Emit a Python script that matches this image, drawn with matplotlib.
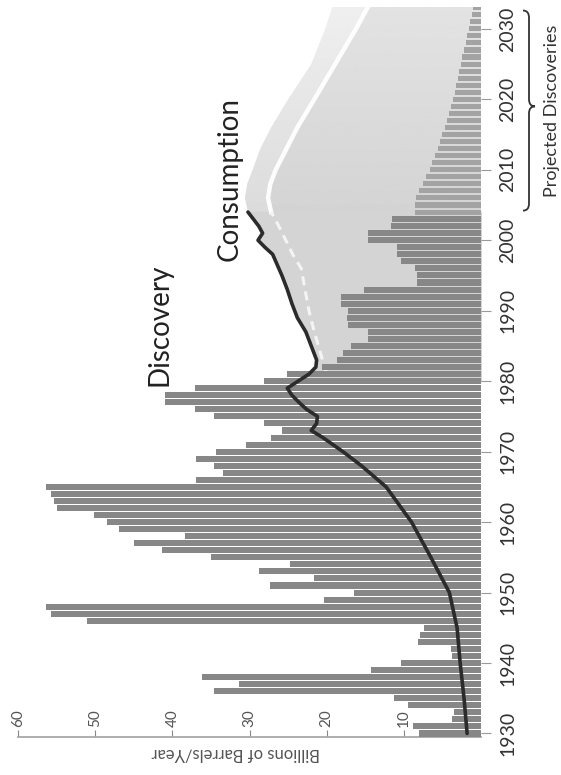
import numpy as np
import matplotlib
matplotlib.use("Agg")
import matplotlib.pyplot as plt
from matplotlib.path import Path
from matplotlib.patches import PathPatch
from matplotlib.transforms import blended_transform_factory

plt.rcParams['font.family'] = ['Lato', 'DejaVu Sans']

# discoveries, billions of barrels per year
hist_years = list(range(1930, 2004))
hist_disc = [8.0, 8.8, 3.7, 3.5, 9.5, 11.3, 34.6, 31.3, 36.2, 14.2,
             10.4, 3.7, 3.9, 8.1, 7.9, 7.4, 51.1, 55.7, 56.4, 20.4,
             16.5, 27.4, 21.6, 28.8, 24.8, 35.0, 41.3, 45.0, 38.3, 46.9,
             48.5, 50.2, 55.0, 55.3, 55.7, 56.4, 36.9, 33.4, 34.6, 36.9,
             34.4, 30.4, 27.2, 25.8, 28.1, 34.6, 37.1, 40.9, 40.9, 37.1,
             28.1, 25.1, 20.6, 18.6, 17.9, 16.9, 14.6, 14.6, 17.2, 17.4,
             17.2, 18.1, 18.1, 15.1, 8.3, 8.3, 8.5, 10.4, 10.9, 10.9,
             14.6, 14.6, 11.7, 11.5]

proj_years = list(range(2004, 2034))
proj_disc = [8.6, 8.6, 8.4, 8.0, 7.5, 7.1, 6.6, 6.3, 6.0, 5.6,
             5.3, 5.0, 4.7, 4.4, 4.2, 3.9, 3.6, 3.4, 3.2, 3.0,
             2.8, 2.6, 2.4, 2.2, 2.0, 1.8, 1.6, 1.4, 1.2, 1.0]

# consumption
cons_years = [1930, 1935, 1940, 1945, 1950, 1955, 1960, 1965, 1968, 1970,
              1972, 1973, 1974, 1975, 1976, 1977, 1978, 1979, 1980, 1981,
              1982, 1983, 1985, 1987, 1989, 1991, 1993, 1995, 1997, 1998,
              1999, 2000, 2001, 2002, 2003, 2004]
cons_vals = [1.8, 2.2, 2.7, 3.1, 4.1, 6.5, 9.0, 12.3, 15.5, 17.9,
             20.5, 22.0, 21.3, 21.2, 22.6, 23.6, 24.5, 25.1, 23.7, 22.3,
             21.4, 21.3, 22.0, 22.7, 23.8, 24.5, 25.1, 25.8, 26.6, 27.0,
             28.0, 28.9, 28.3, 28.8, 29.5, 30.2]

# dashed inner line inside the gap
prod_years = [1981, 1984, 1987, 1990, 1993, 1996, 1998, 2000, 2002, 2004]
prod_vals = [20.0, 20.8, 21.6, 22.3, 22.8, 23.3, 24.4, 25.3, 26.2, 27.2]

# projected band
fut_years = [2004, 2006, 2008, 2010, 2013, 2016, 2020, 2025, 2030, 2034]
fut_outer = [30.2, 30.6, 30.3, 29.6, 28.6, 27.2, 25.0, 22.0, 20.2, 19.0]
fut_inner = [27.2, 27.6, 27.3, 26.6, 25.2, 23.8, 21.6, 18.9, 16.2, 14.2]

year_ticks = [1930, 1940, 1950, 1960, 1970, 1980, 1990, 2000, 2010, 2020, 2030]
value_ticks = [60, 50, 40, 30, 20, 10]

fig = plt.figure(figsize=(5.61, 7.75), dpi=100)
ax = fig.add_axes([18/561, 38/775, 463/561, 730/775])

def faded_fill(ys, xs, c0, c1, z):
    # fill from 0 to xs, shaded from c0 (bottom) to c1 (top)
    poly = ax.fill_betweenx(ys, 0, xs, color='none', lw=0)
    g = np.linspace(c0, c1, 200).reshape(-1, 1)
    im = ax.imshow(g, cmap='gray', vmin=0, vmax=1, origin='lower', aspect='auto',
                   extent=(60, 0, min(ys), max(ys)), zorder=z, interpolation='bilinear')
    im.set_clip_path(poly.get_paths()[0], transform=ax.transData)

# gap between consumption and discovery
cy = np.array(cons_years)
cv = np.array(cons_vals)
m = cy >= 1980
ax.fill_betweenx(cy[m], 0, cv[m], facecolor='#d4d4d4', edgecolor='#d4d4d4',
                 lw=1.2, zorder=1.3)
faded_fill(fut_years, fut_outer, 0.86, 0.94, 1.1)
faded_fill(fut_years, fut_inner, 0.83, 0.89, 1.2)
ax.plot(fut_inner, fut_years, color='white', lw=3.2, zorder=1.5, alpha=0.95)
ax.plot(prod_vals, prod_years, color='#f4f4f4', lw=2.2, ls=(0, (3, 2)), zorder=1.6)

ax.barh(hist_years, hist_disc, height=0.86, color='#878787', lw=0, zorder=3)
ax.barh(proj_years, proj_disc, height=0.72, color='#a3a3a3', lw=0, zorder=3)

ax.plot(cons_vals, cons_years, color='#2b2b2b', lw=2.6, zorder=5,
        solid_joinstyle='round', solid_capstyle='round')

ax.set_xlim(60, 0)
ax.set_ylim(1929.5, 2033.1)

ax.text(41.7, 1988, 'Discovery', rotation=90, ha='center', va='center',
        fontsize=20, color='#222')
ax.text(32.6, 2008.7, 'Consumption', rotation=90, ha='center', va='center',
        fontsize=20, color='#222')

# axes styling
for s in ['top', 'left', 'right']:
    ax.spines[s].set_visible(False)
ax.spines['bottom'].set_color('#a8a8a8')
ax.spines['bottom'].set_linewidth(1.3)

ax.yaxis.tick_right()
ax.set_yticks(year_ticks)
ax.set_yticklabels([str(y) for y in year_ticks], rotation=90, va='center',
                   fontsize=14, color='#333')
ax.tick_params(axis='y', length=7, width=0.8, color='#999', pad=6)

ax.set_xticks(value_ticks)
ax.set_xticklabels([str(v) for v in value_ticks], rotation=90, fontsize=11,
                   color='#555')
ax.tick_params(axis='x', direction='in', length=5, width=0.8, color='#888', pad=-7)
plt.setp(ax.get_xticklabels(), va='bottom')

ax.set_xlabel('Billions of Barrels/Year', rotation=180, fontsize=12, color='#555')
ax.xaxis.set_label_coords(0.47, -0.012)

# brace for projected discoveries
tr = blended_transform_factory(fig.transFigure, ax.transData)
x0 = 529/561
w = 6/561
r = 1.0
y_lo, y_mid, y_hi = 2004.2, 2019.0, 2032.6
verts = [(x0 - w, y_hi), (x0, y_hi), (x0, y_hi - r),
         (x0, y_mid + r),
         (x0, y_mid), (x0 + w, y_mid),
         (x0, y_mid), (x0, y_mid - r),
         (x0, y_lo + r),
         (x0, y_lo), (x0 - w, y_lo)]
codes = [Path.MOVETO, Path.CURVE3, Path.CURVE3, Path.LINETO,
         Path.CURVE3, Path.CURVE3, Path.CURVE3, Path.CURVE3,
         Path.LINETO, Path.CURVE3, Path.CURVE3]
ax.add_patch(PathPatch(Path(verts, codes), transform=tr, fill=False,
                       lw=1.3, color='#333', clip_on=False))
ax.text(552/561, 2018.3, 'Projected Discoveries', transform=tr, rotation=90,
        ha='center', va='center', fontsize=13, color='#333', clip_on=False)

fig.savefig('out.png', dpi=100)
